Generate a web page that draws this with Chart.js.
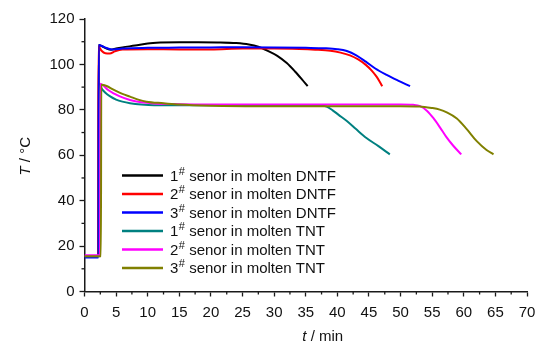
<!DOCTYPE html>
<html>
<head>
<meta charset="utf-8">
<script src="https://cdn.jsdelivr.net/npm/chart.js@4.4.1/dist/chart.umd.min.js"></script>
<style>
html,body{margin:0;padding:0;background:#fff;}
#wrap{width:545px;height:344px;position:relative;}
</style>
</head>
<body>
<div id="wrap"><canvas id="c" width="545" height="344"></canvas></div>
<script>
// ---- data (time in min, temperature in °C) ----
const seriesLabels = [
  "1# senor in molten DNTF",
  "2# senor in molten DNTF",
  "3# senor in molten DNTF",
  "1# senor in molten TNT",
  "2# senor in molten TNT",
  "3# senor in molten TNT"
];
const seriesColors = ["#000000", "#ff0000", "#0000ff", "#008080", "#ff00ff", "#808000"];

const dntf1T = [0, 2.2, 2.25, 2.8, 3.5, 4.2, 5, 6, 8, 10, 12, 15, 18, 21, 24, 26, 27.5, 29, 30.5, 32, 33.3, 34.4, 35.3];
const dntf1Y = [15.5, 15.5, 108.6, 108, 107, 106.5, 107, 107.5, 108.3, 109.2, 109.6, 109.8, 109.8, 109.7, 109.4, 108.8, 107.8, 106, 103.8, 100.6, 96.9, 93.4, 90.4];

const dntf2T = [0, 2.15, 2.2, 2.7, 3.3, 4, 4.8, 6, 10, 15, 20, 25, 30, 34, 36.5, 38.9, 40.5, 42, 43.3, 44.5, 45.4, 46.2, 46.7, 47.1];
const dntf2Y = [15.5, 15.5, 108, 106, 104.9, 104.8, 105.8, 106.6, 106.7, 106.6, 106.6, 107, 107, 106.8, 106.5, 106, 105.2, 104, 102.2, 99.8, 97.4, 94.6, 92.4, 90.4];

const dntf3T = [0, 2.2, 2.25, 2.8, 3.5, 4.5, 6, 10, 15, 20, 25, 30, 35, 38, 40, 41.5, 43, 44.5, 46, 47.8, 49.6, 51.5];
const dntf3Y = [15, 15, 108.6, 108, 107.2, 106.6, 107, 107.3, 107.4, 107.5, 107.6, 107.5, 107.3, 107.1, 106.7, 105.9, 104, 101.2, 98.2, 95.4, 92.9, 90.4];

const tnt1T = [0, 2.4, 2.45, 2.8, 3.3, 4, 5, 6, 7.2, 9, 11, 15, 20, 25, 30, 35, 37.3, 38.3, 39.2, 40.2, 41.5, 43, 44.6, 46.5, 48.3];
const tnt1Y = [15.5, 15.5, 90.5, 89, 87.5, 86, 84.5, 83.6, 82.9, 82.3, 82, 82, 82, 82, 82, 82, 81.9, 81.4, 79.9, 77.8, 75.1, 71.4, 67.6, 64, 60.4];

const tnt2T = [0, 2.45, 2.5, 3, 3.8, 4.6, 5.5, 7.2, 9, 11, 15, 20, 30, 40, 50, 52, 53.1, 54.2, 55.2, 56.2, 57.2, 58.3, 59.6];
const tnt2Y = [16, 16, 91.5, 90.6, 88.6, 87.3, 86, 84.3, 83.3, 82.8, 82.5, 82.4, 82.4, 82.4, 82.4, 82.2, 81.6, 79.5, 76.3, 72.4, 68.2, 64.3, 60.4];

const tnt3T = [0, 2.6, 2.65, 3.5, 4.5, 6, 7.2, 8.5, 9.8, 12.5, 15, 20, 30, 40, 50, 53, 55, 56.2, 57.3, 58.9, 60.5, 62.05, 63.6, 64.7];
const tnt3Y = [15.5, 15.5, 91, 90.5, 89, 87, 85.8, 84.5, 83.6, 82.9, 82.3, 81.8, 81.6, 81.6, 81.6, 81.5, 80.8, 80.1, 78.9, 76.2, 71.4, 66.2, 62.3, 60.4];

const xTickStep = 5, yTickStep = 20;
const xMin = 0, xMax = 70, yMin = 0, yMax = 120;

const seriesT = [dntf1T, dntf2T, dntf3T, tnt1T, tnt2T, tnt3T];
const seriesY = [dntf1Y, dntf2Y, dntf3Y, tnt1Y, tnt2Y, tnt3Y];
const drawOrder = [5, 4, 3, 2, 1, 0];

const FONT = "'Liberation Sans', Arial, sans-serif";
const AXIS_COLOR = "#1a1a1a";

const datasets = seriesLabels.map((lab, i) => ({
  label: lab,
  data: seriesT[i].map((t, k) => ({x: t, y: seriesY[i][k]})),
  borderColor: seriesColors[i],
  backgroundColor: seriesColors[i],
  borderWidth: 2,
  pointRadius: 0,
  fill: false,
  cubicInterpolationMode: 'monotone',
  order: drawOrder[i]
}));

// minor ticks + axis titles + legend
const decor = {
  id: 'decor',
  afterDraw(chart) {
    const ctx = chart.ctx, ca = chart.chartArea;
    const xs = chart.scales.x, ys = chart.scales.y;
    ctx.save();
    ctx.strokeStyle = AXIS_COLOR;
    ctx.lineWidth = 1.3;
    // minor ticks
    for (let v = xMin + xTickStep / 2; v < xMax; v += xTickStep) {
      const px = xs.getPixelForValue(v);
      ctx.beginPath(); ctx.moveTo(px, ca.bottom); ctx.lineTo(px, ca.bottom + 3); ctx.stroke();
    }
    for (let v = yMin + yTickStep / 2; v < yMax; v += yTickStep) {
      const py = ys.getPixelForValue(v);
      ctx.beginPath(); ctx.moveTo(ca.left, py); ctx.lineTo(ca.left - 3, py); ctx.stroke();
    }
    ctx.fillStyle = "#111";
    ctx.textBaseline = 'alphabetic';
    const drawMixed = (parts, cx, cy) => {
      let w = 0;
      parts.forEach(p => { ctx.font = p[1]; w += ctx.measureText(p[0]).width; });
      let x = cx - w / 2;
      ctx.textAlign = 'left';
      parts.forEach(p => { ctx.font = p[1]; ctx.fillText(p[0], x, cy); x += ctx.measureText(p[0]).width; });
    };
    // x title: "t / min"
    drawMixed([["t", "italic 15px " + FONT], [" / min", "15px " + FONT]], (ca.left + ca.right) / 2 + 17, chart.height - 3);
    // y title: "T / °C"
    ctx.save();
    ctx.translate(30, (ca.top + ca.bottom) / 2 + 1);
    ctx.rotate(-Math.PI / 2);
    drawMixed([["T", "italic 15px " + FONT], [" / \u00B0C", "15px " + FONT]], 0, 0);
    ctx.restore();
    // legend
    const lx0 = ca.left + 37.5, lx1 = ca.left + 78.5, tx = ca.left + 85.5;
    const ly0 = ca.top + 156.5, step = 18.5;
    chart.data.datasets.forEach((ds, i) => {
      const y = ly0 + i * step;
      ctx.strokeStyle = ds.borderColor;
      ctx.lineWidth = 2.5;
      ctx.beginPath(); ctx.moveTo(lx0, y); ctx.lineTo(lx1, y); ctx.stroke();
      const parts = ds.label.split('#');
      ctx.fillStyle = "#111";
      ctx.textAlign = 'left';
      ctx.textBaseline = 'middle';
      let x = tx;
      ctx.font = "15px " + FONT;
      ctx.fillText(parts[0], x, y + 1);
      x += ctx.measureText(parts[0]).width + 0.5;
      ctx.font = "11px " + FONT;
      ctx.fillText("#", x, y - 4);
      x += ctx.measureText("#").width;
      ctx.font = "15px " + FONT;
      ctx.fillText(parts[1], x, y + 1);
    });
    ctx.restore();
  }
};

new Chart(document.getElementById('c'), {
  type: 'line',
  data: { datasets },
  options: {
    responsive: false,
    animation: false,
    events: [],
    layout: { padding: { top: 19, right: 18, left: 0, bottom: 0 } },
    plugins: { legend: { display: false }, tooltip: { enabled: false } },
    scales: {
      x: {
        type: 'linear', min: xMin, max: xMax,
        afterFit: s => { s.height = 52.5; },
        border: { display: true, color: AXIS_COLOR, width: 1.5 },
        grid: { display: true, drawOnChartArea: false, drawTicks: true, tickLength: 5, color: AXIS_COLOR, tickColor: AXIS_COLOR, tickWidth: 1.3 },
        ticks: { stepSize: xTickStep, color: "#111", font: { family: FONT, size: 15 }, padding: 7, maxRotation: 0, autoSkip: false }
      },
      y: {
        type: 'linear', min: yMin, max: yMax,
        afterFit: s => { s.width = 84.5; },
        border: { display: true, color: AXIS_COLOR, width: 1.5 },
        grid: { display: true, drawOnChartArea: false, drawTicks: true, tickLength: 5, color: AXIS_COLOR, tickColor: AXIS_COLOR, tickWidth: 1.3 },
        ticks: { stepSize: yTickStep, color: "#111", font: { family: FONT, size: 15 }, padding: 5 }
      }
    }
  },
  plugins: [decor]
});
</script>
</body>
</html>
